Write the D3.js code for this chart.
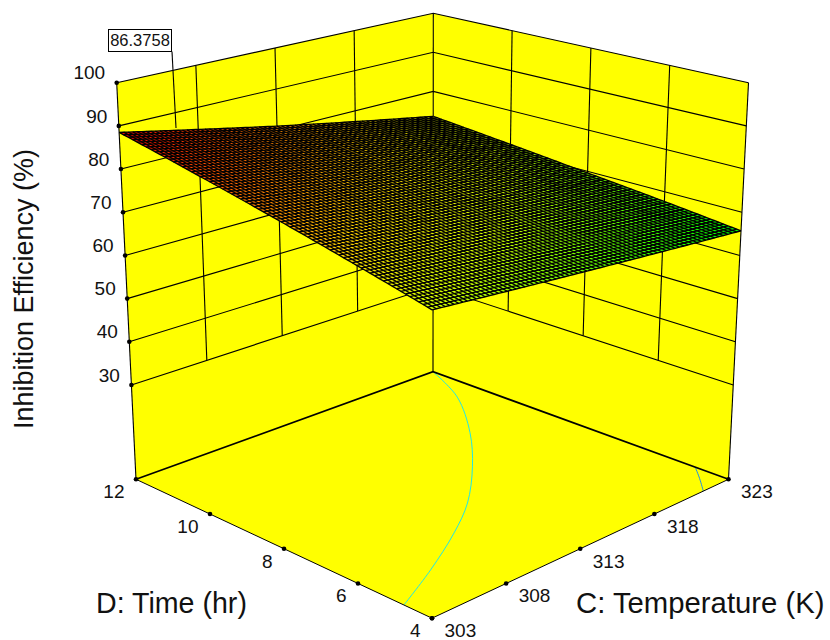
<!DOCTYPE html>
<html><head><meta charset="utf-8">
<script src="https://cdn.jsdelivr.net/npm/d3@7/dist/d3.min.js"></script>
<style>html,body{margin:0;padding:0;background:#fff}svg{display:block}text{font-family:"Liberation Sans",Arial,sans-serif;fill:#111}</style>
</head><body><div id="chart"></div>
<script>
// ---------- data ----------
const tempTicks = [303, 308, 313, 318, 323];
const timeTicks = [4, 6, 8, 10, 12];
const effTicks  = [30, 40, 50, 60, 70, 80, 90, 100];
const effFloor  = 8.16;
// Surface height at the tick crossings (one row per Time tick, one column per Temperature tick)
const effAtTime4  = [72.5, 70.8, 69.1, 67.4, 65.7];
const effAtTime6  = [76.5, 74.3, 72.1, 69.9, 67.7];
const effAtTime8  = [80.5, 77.8, 75.0, 72.4, 69.6];
const effAtTime10 = [84.5, 81.3, 78.0, 74.9, 71.6];
const effAtTime12 = [88.5, 84.8, 81.0, 77.3, 73.6];
// Floor contours
const contourCyanTemp = [323, 321.5, 318.8, 316.0, 312.9, 310.1, 306.5, 303];
const contourCyanTime = [12, 10.74, 9.31, 8.12, 7.01, 6.25, 5.44, 4.76];
const contourBlueTemp = [323, 322.2, 321.3];
const contourBlueTime = [4.9, 4.46, 4];
const flagTemp = 306.6, flagTime = 12, flagValue = 86.3758, flagText = "86.3758";
const yTitle = "Inhibition Efficiency (%)", cTitle = "C: Temperature (K)", dTitle = "D: Time (hr)";

// ---------- projection: box corners on the page ----------
const corners = {
  floor:{F:[432,618.2],R:[728.5,479.3],L:[136,479.3],B:[433,371.7]},
  top:  {F:[432,178],  R:[748.5,82.7], L:[116.7,82.7],B:[433.3,13.3]}
};
const uS = d3.scaleLinear([303,323],[0,1]);
const vS = d3.scaleLinear([4,12],[0,1]);
const wS = d3.scaleLinear([effFloor,100],[0,1]);
function bil(c,u,v,i){return c.F[i]*(1-u)*(1-v)+c.R[i]*u*(1-v)+c.L[i]*(1-u)*v+c.B[i]*u*v;}
function project(C,D,Z){
  const u=uS(C),v=vS(D),w=wS(Z);
  return [0,1].map(i=>bil(corners.floor,u,v,i)*(1-w)+bil(corners.top,u,v,i)*w);
}
// ---------- surface patches from the table (mesh subdivides each patch for drawing) ----------
const rows=[effAtTime4,effAtTime6,effAtTime8,effAtTime10,effAtTime12];
const ci=d3.scaleLinear(tempTicks,[0,1,2,3,4]), ri=d3.scaleLinear(timeTicks,[0,1,2,3,4]);
function surf(C,D){
  const a=ci(C),b=ri(D),i=Math.min(3,Math.floor(a)),j=Math.min(3,Math.floor(b)),s=a-i,t=b-j;
  return rows[j][i]*(1-s)*(1-t)+rows[j][i+1]*s*(1-t)+rows[j+1][i]*(1-s)*t+rows[j+1][i+1]*s*t;
}
const color=d3.scaleLinear([66,72.5,77,88.5],["#00ff00","#d0ff00","#ffd800","#ff0000"]);

const svg=d3.select("#chart").append("svg").attr("width",830).attr("height",640);
const line=d3.line();
const poly=pts=>line(pts)+"Z";
const YEL="#ffff00";
const tMin=303,tMax=323,dMin=4,dMax=12;

// walls + floor
svg.append("path").attr("d",poly([project(tMin,dMax,effFloor),project(tMax,dMax,effFloor),project(tMax,dMax,100),project(tMin,dMax,100)])).attr("fill",YEL);
svg.append("path").attr("d",poly([project(tMax,dMin,effFloor),project(tMax,dMax,effFloor),project(tMax,dMax,100),project(tMax,dMin,100)])).attr("fill",YEL);
svg.append("path").attr("d",poly([project(tMin,dMin,effFloor),project(tMax,dMin,effFloor),project(tMax,dMax,effFloor),project(tMin,dMax,effFloor)])).attr("fill",YEL);

// wall grid
const grid=svg.append("g").attr("fill","none").attr("stroke","#000").attr("stroke-width",1.1);
effTicks.forEach(z=>{
  grid.append("path").attr("d",line([project(tMin,dMax,z),project(tMax,dMax,z),project(tMax,dMin,z)]));
});
tempTicks.slice(1,-1).forEach(c=>grid.append("path").attr("d",line([project(c,dMax,30),project(c,dMax,100)])));
timeTicks.slice(1,-1).forEach(d=>grid.append("path").attr("d",line([project(tMax,d,30),project(tMax,d,100)])));
grid.append("path").attr("d",line([project(tMax,dMax,effFloor),project(tMax,dMax,100)]));
grid.append("path").attr("d",line([project(tMin,dMax,effFloor),project(tMin,dMax,100)]));
grid.append("path").attr("d",line([project(tMax,dMin,effFloor),project(tMax,dMin,100)]));

// floor contours
const flat=(cs,ds)=>cs.map((c,i)=>project(c,ds[i],effFloor));
const curve=d3.line().curve(d3.curveCatmullRom);
svg.append("path").attr("d",curve(flat(contourCyanTemp,contourCyanTime))).attr("fill","none").attr("stroke","#22e6e6").attr("stroke-width",1);
svg.append("path").attr("d",curve(flat(contourBlueTemp,contourBlueTime))).attr("fill","none").attr("stroke","#1e8fe6").attr("stroke-width",1);

// floor edges
svg.append("path").attr("d",line([project(tMin,dMax,effFloor),project(tMax,dMax,effFloor),project(tMax,dMin,effFloor)])).attr("fill","none").attr("stroke","#000").attr("stroke-width",1.7);
svg.append("path").attr("d",line([project(tMin,dMax,effFloor),project(tMin,dMin,effFloor),project(tMax,dMin,effFloor)])).attr("fill","none").attr("stroke","#000").attr("stroke-width",1);

// surface
const N=70;
const cAt=d3.scaleLinear([0,N],[tMin,tMax]), dAt=d3.scaleLinear([0,N],[dMin,dMax]);
const surfG=svg.append("g");
const cells=[];
for(let i=0;i<N;i++)for(let j=0;j<N;j++)cells.push([i,j]);
surfG.selectAll("path.c").data(cells).join("path").attr("class","c")
  .attr("d",([i,j])=>poly([[i,j],[i+1,j],[i+1,j+1],[i,j+1]].map(([a,b])=>project(cAt(a),dAt(b),surf(cAt(a),dAt(b))))))
  .attr("fill",([i,j])=>{const c=cAt(i+.5),d=dAt(j+.5);return color(surf(c,d));})
  .attr("shape-rendering","crispEdges");
const mesh=surfG.append("g").attr("fill","none").attr("stroke","#000").attr("stroke-width",1.35);
for(let i=0;i<=N;i++){
  mesh.append("path").attr("d",line(d3.range(0,N+1).map(j=>project(cAt(i),dAt(j),surf(cAt(i),dAt(j))))));
  mesh.append("path").attr("d",line(d3.range(0,N+1).map(j=>project(cAt(j),dAt(i),surf(cAt(j),dAt(i))))));
}

// tick dots
const dots=svg.append("g").attr("fill","#000");
const dot=p=>dots.append("circle").attr("cx",p[0]).attr("cy",p[1]).attr("r",2.3);
effTicks.forEach(z=>dot(project(tMin,dMax,z)));
tempTicks.forEach(c=>dot(project(c,dMin,effFloor)));
timeTicks.forEach(d=>dot(project(tMin,d,effFloor)));

// tick labels
const FS=19;
const lab=svg.append("g").attr("font-size",FS);
effTicks.forEach(z=>{const p=project(tMin,dMax,z);
  lab.append("text").attr("x",p[0]-11.5).attr("y",p[1]-10).attr("dy","0.35em").attr("text-anchor","end").text(z);});
tempTicks.forEach(c=>{const p=project(c,dMin,effFloor);
  lab.append("text").attr("x",p[0]+12.5).attr("y",p[1]+12.3).attr("dy","0.35em").text(c);});
timeTicks.forEach(d=>{const p=project(tMin,d,effFloor);
  lab.append("text").attr("x",p[0]-11.5).attr("y",p[1]+12.3).attr("dy","0.35em").attr("text-anchor","end").text(d);});

// titles
svg.append("text").attr("x",96).attr("y",613).attr("font-size",28.6).text(dTitle);
svg.append("text").attr("x",576).attr("y",613).attr("font-size",29.3).text(cTitle);
svg.append("text").attr("transform","translate(33,289) rotate(-90)").attr("text-anchor","middle").attr("font-size",27).text(yTitle);

// flag
const fp=project(flagTemp,flagTime,flagValue);
svg.append("path").attr("d",line([[172,51.5],fp])).attr("stroke","#000").attr("stroke-width",1.1).attr("fill","none");
svg.append("rect").attr("x",108.5).attr("y",29.5).attr("width",63).attr("height",22).attr("fill","#fff").attr("stroke","#000").attr("stroke-width",1);
svg.append("text").attr("x",140).attr("y",40.5).attr("dy","0.36em").attr("text-anchor","middle").attr("font-size",16.5).text(flagText);
</script></body></html>
